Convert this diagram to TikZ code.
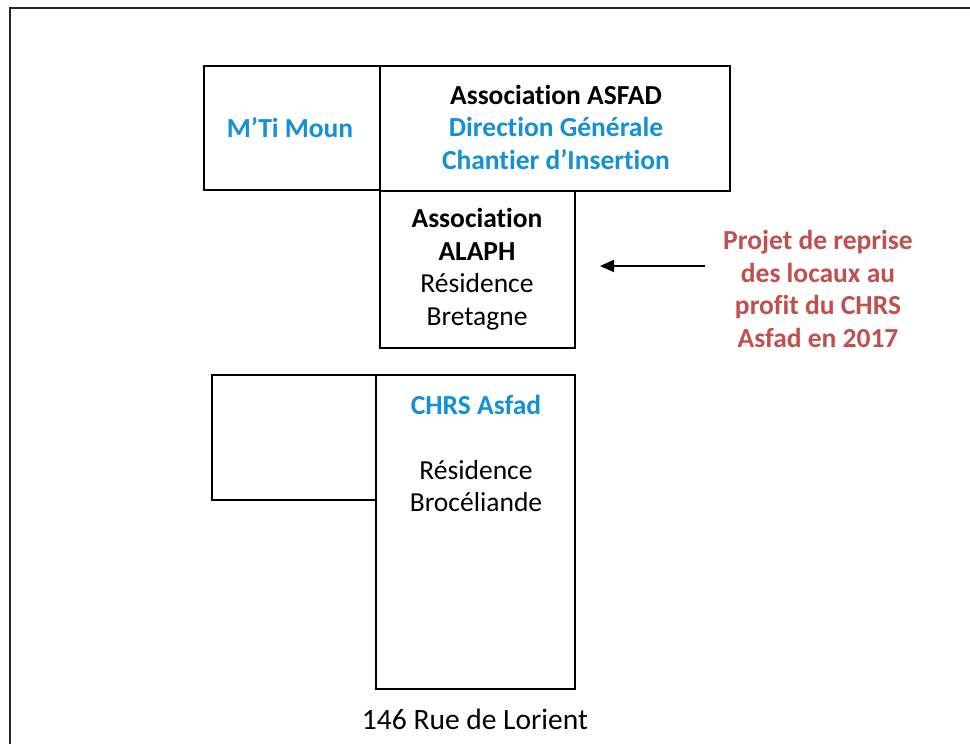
\documentclass[tikz,border=0pt]{standalone}
\usepackage{fontspec}
\setmainfont[Ligatures={NoCommon}]{Carlito}
\usetikzlibrary{arrows.meta,positioning}
\definecolor{asblue}{RGB}{20,144,214}
\definecolor{asred}{RGB}{192,80,77}
\begin{document}
\begin{tikzpicture}[x=1pt,y=-1pt,
  room/.style={draw=black,line width=1.6pt,inner sep=0pt,outer sep=0pt},
  txt/.style={align=center,inner sep=0pt,font=\fontsize{27.5}{32.5}\selectfont},
  btxt/.style={txt,font=\fontsize{27.5}{32.5}\selectfont\bfseries},
  arr/.style={line width=1.8pt,-{Triangle[length=14pt,width=12pt]}}]
\useasboundingbox (0,0) rectangle (970,744);
\fill[white] (0,0) rectangle (970,744);
% outer frame
\draw[line width=1.8pt,black!85] (10,760) -- (10,8) -- (990,8);
% rooms
\node[room,minimum width=176pt,minimum height=124pt] (mti) at (292,128) {};
\node[room,minimum width=350pt,minimum height=125pt] (asfad) at (555,128.5) {};
\node[room,minimum width=195pt,minimum height=157pt] (alaph) at (477.5,269.5) {};
\node[room,minimum width=164pt,minimum height=125pt] (annex) at (294,437.5) {};
\node[room,minimum width=199pt,minimum height=314pt] (chrs) at (475.5,532) {};
% texts
\node[btxt,text=asblue] (tmti) at (290,128) {M’Ti Moun};
\node[btxt] (tasfad) at (556,127) {Association ASFAD\\\textcolor{asblue}{Direction Générale}\\\textcolor{asblue}{Chantier d’Insertion}};
\node[txt] (talaph) at (477,269) {\textbf{Association}\\\textbf{ALAPH}\\Résidence\\Bretagne};
\node[btxt,text=asred] (tred) at (818,289) {Projet de reprise\\des locaux au\\profit du CHRS\\Asfad en 2017};
\node[btxt,text=asblue] (tchrs) at (476,405) {CHRS Asfad};
\node[txt] (tres) at (476,486) {Résidence\\Brocéliande};
\node[txt,font=\fontsize{29.5}{34}\selectfont] (taddr) at (475,719) {146 Rue de Lorient};
% arrow
\coordinate (astart) at (705,266);
\coordinate (aend) at (600,266);
\draw[arr] (astart) -- (aend);
\end{tikzpicture}
\end{document}
